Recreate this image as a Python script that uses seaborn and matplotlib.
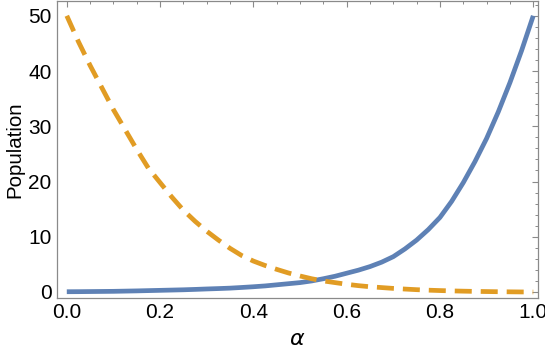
import numpy as np
import pandas as pd
import seaborn as sns
import matplotlib
matplotlib.use("Agg")
import matplotlib.pyplot as plt
from matplotlib.ticker import MultipleLocator

alpha = [0.0, 0.025, 0.05, 0.075, 0.1, 0.125, 0.15, 0.175, 0.2, 0.225, 0.25,
         0.275, 0.3, 0.325, 0.35, 0.375, 0.4, 0.425, 0.45, 0.475, 0.5,
         0.525, 0.55, 0.575, 0.6, 0.625, 0.65, 0.675, 0.7, 0.725, 0.75,
         0.775, 0.8, 0.825, 0.85, 0.875, 0.9, 0.925, 0.95, 0.975, 1.0]
blue_pop = [0.05, 0.06, 0.08, 0.1, 0.12, 0.16, 0.2, 0.25, 0.3, 0.35, 0.4,
            0.47, 0.55, 0.62, 0.7, 0.82, 0.95, 1.1, 1.3, 1.5, 1.7,
            2.0, 2.4, 2.85, 3.4, 3.95, 4.6, 5.4, 6.4, 7.8, 9.4,
            11.3, 13.5, 16.4, 19.8, 23.6, 27.8, 32.6, 37.9, 43.7, 50.0]
orange_pop = [50.0, 45.3, 41.0, 37.0, 33.0, 29.4, 25.8, 22.4, 19.8, 17.2, 14.8,
              12.8, 11.0, 9.4, 7.9, 6.6, 5.6, 4.8, 4.1, 3.45, 2.9,
              2.4, 2.0, 1.7, 1.4, 1.15, 0.95, 0.8, 0.65, 0.53, 0.42,
              0.33, 0.26, 0.2, 0.15, 0.11, 0.08, 0.05, 0.03, 0.01, 0.0]
x_ticks = [0.0, 0.2, 0.4, 0.6, 0.8, 1.0]
y_ticks = [0, 10, 20, 30, 40, 50]

sns.set_theme(style="white")
plt.rcParams['font.family'] = ['Liberation Sans', 'DejaVu Sans']

df = pd.DataFrame({"alpha": alpha, "blue": blue_pop, "orange": orange_pop})

fig = plt.figure(figsize=(5.45, 3.56), dpi=100)
ax = fig.add_axes([0.1046, 0.1638, 0.987 - 0.1046, 0.996 - 0.1638])

sns.lineplot(data=df, x="alpha", y="blue", ax=ax, color="#5E81B5", lw=3.4,
             solid_capstyle="butt")
sns.lineplot(data=df, x="alpha", y="orange", ax=ax, color="#E19C24", lw=3.4,
             dashes=False, linestyle=(0, (3.6, 1.9)))

ax.set_xlim(-0.021, 1.01)
ax.set_ylim(-1.03, 52.6)
ax.set_xticks(x_ticks)
ax.set_xticklabels([f"{v:.1f}" for v in x_ticks])
ax.set_yticks(y_ticks)
ax.set_yticklabels([str(v) for v in y_ticks])
ax.xaxis.set_minor_locator(MultipleLocator(0.05))
ax.yaxis.set_minor_locator(MultipleLocator(2))

ax.tick_params(which="both", direction="in", top=True, right=True,
               color="#8a8a8a", labelsize=15, labelcolor="black", pad=4)
ax.tick_params(which="major", length=4.5, width=0.8)
ax.tick_params(which="minor", length=2.4, width=0.7)
for s in ax.spines.values():
    s.set_color("#8a8a8a")
    s.set_linewidth(0.9)

ax.set_xlabel(r"$\alpha$", fontsize=16, color="black", labelpad=5)
ax.set_ylabel("Population", fontsize=14.8, color="black", labelpad=3)
ax.grid(False)

fig.savefig("out.png", dpi=100)
